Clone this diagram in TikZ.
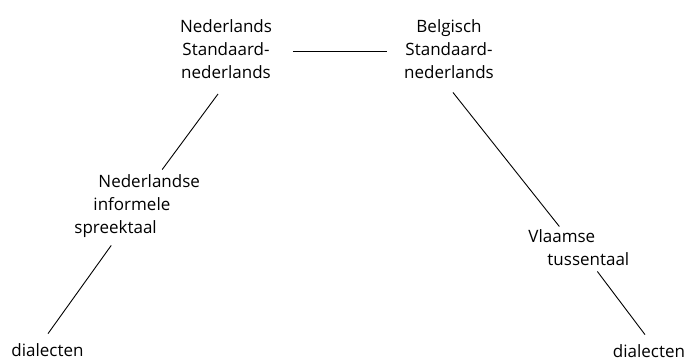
\documentclass[tikz,border=0pt]{standalone}
\usepackage{fontspec}
\setmainfont{Open Sans}
\begin{document}
\begin{tikzpicture}[x=1pt, y=1pt, line width=0.9pt,
    lbl/.style={inner sep=0pt, font=\fontsize{17}{23}\selectfont}]
  \useasboundingbox (0,0) rectangle (688,360);
  % standard languages
  \node[lbl, align=center] (nl) at (226,311) {Nederlands\\Standaard-\\nederlands};
  \node[lbl, align=center] (be) at (449,311) {Belgisch\\Standaard-\\nederlands};
  % intermediate varieties
  \node[lbl, align=left, anchor=west] (nis) at (74,154)
    {\hspace*{24pt}Nederlandse\\\hspace*{19pt}informele\\spreektaal};
  \node[lbl, align=left, anchor=west] (vt) at (528,112.5)
    {Vlaamse\\\hspace*{19pt}tussentaal};
  % dialects
  \node[lbl, anchor=base] (dl) at (47.5,4) {dialecten};
  \node[lbl, anchor=base] (dr) at (649,3) {dialecten};
  % connectors
  \draw ([shift={(20.5,-2)}]nl.east) -- ([shift={(-17,-2)}]be.west);
  \draw ([shift={(-8,-15)}]nl.south) -- ([shift={(25,4.5)}]nis.north);
  \draw ([shift={(-26,-7.5)}]nis.south) -- ([shift={(0.5,9)}]dl.north);
  \draw ([shift={(4,-13.5)}]be.south) -- ([shift={(-19.5,2.5)}]vt.north);
  \draw ([shift={(18.5,-5.5)}]vt.south) -- ([shift={(-4,9)}]dr.north);
\end{tikzpicture}
\end{document}
